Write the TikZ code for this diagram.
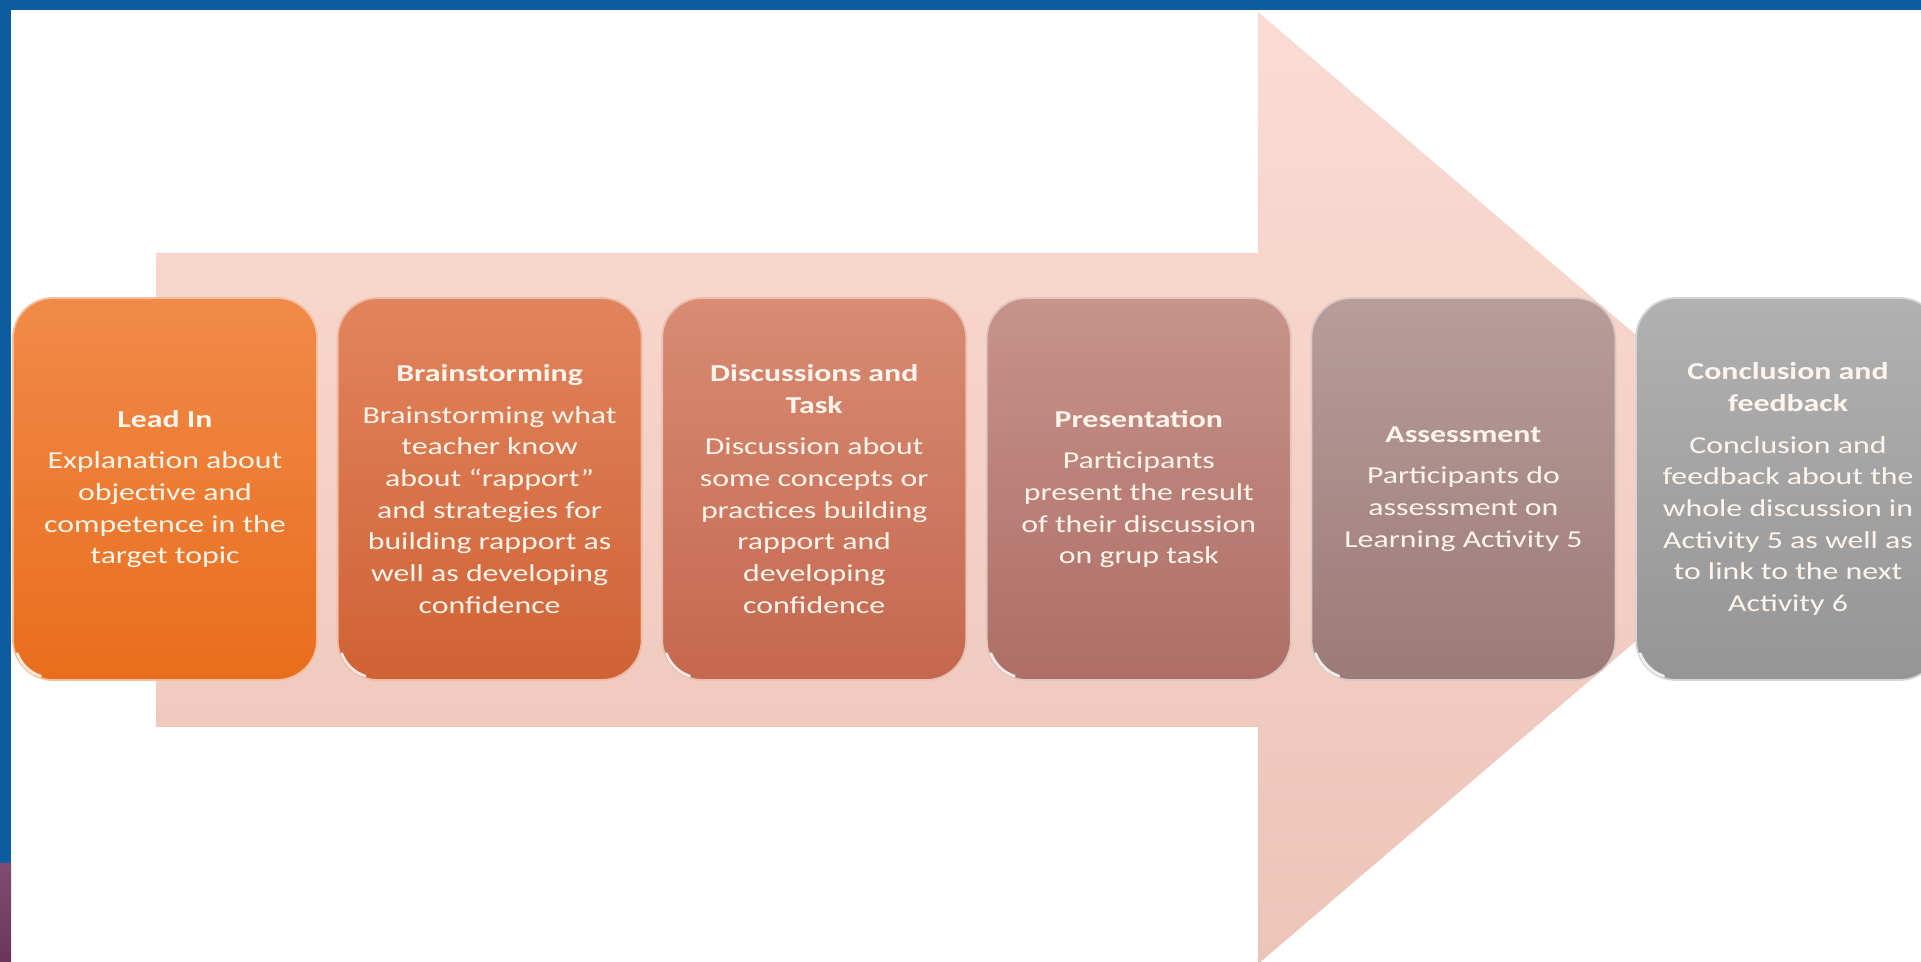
\documentclass[tikz,border=0pt]{standalone}
\usepackage{fontspec}
\setmainfont{Carlito}[FakeStretch=1.31]
\definecolor{frameblue}{HTML}{0D5CA0}
\definecolor{framepurpleA}{HTML}{7E4C74}
\definecolor{framepurpleB}{HTML}{6A3558}
\definecolor{arrowtop}{HTML}{FADCD3}
\definecolor{arrowbot}{HTML}{EDC4B8}
\definecolor{boxtext}{HTML}{FFF5EC}
\definecolor{cAt}{HTML}{F18A49}\definecolor{cAb}{HTML}{E86E1C}
\definecolor{cBt}{HTML}{E1845E}\definecolor{cBb}{HTML}{D06234}
\definecolor{cCt}{HTML}{D98B73}\definecolor{cCb}{HTML}{C4684F}
\definecolor{cDt}{HTML}{C7938A}\definecolor{cDb}{HTML}{AE6E66}
\definecolor{cEt}{HTML}{B89D9A}\definecolor{cEb}{HTML}{9C7A78}
\definecolor{cFt}{HTML}{B1B1B1}\definecolor{cFb}{HTML}{959595}
\begin{document}
\begin{tikzpicture}[x=0.5pt,y=0.5pt,
  stepbox/.style 2 args={rectangle, rounded corners=20pt,
    minimum width=152pt, minimum height=191pt, inner sep=0pt,
    align=center, text=boxtext,
    font=\fontsize{12.15}{15.85}\selectfont,
    top color=#1, bottom color=#2, draw=#1!55!white, line width=0.9pt},
  glint/.style={draw=white, line width=1.3pt, opacity=0.85, line cap=round},
  bigarrow/.style={top color=arrowtop, bottom color=arrowbot, draw=none}]
\useasboundingbox (0,0) rectangle (1921,962);
\clip (0,0) rectangle (1921,962);
\fill[white] (0,0) rectangle (1921,962);
% frame
\fill[frameblue] (0,952) rectangle (1921,962);
\fill[frameblue] (0,98) rectangle (11,962);
\shade[top color=framepurpleA, bottom color=framepurpleB] (0,0) rectangle (11,98);
% big arrow
\path[bigarrow] (156,709) -- (1258,709) -- (1258,950) -- (1815,474)
  -- (1258,-2) -- (1258,235) -- (156,235) -- cycle;
% steps
\node[stepbox={cAt}{cAb}] (b1) at (165,473)
  {\textbf{Lead In}\\[5pt]Explanation about\\objective and\\competence in the\\target topic};
\node[stepbox={cBt}{cBb}] (b2) at (489.6,473)
  {\textbf{Brainstorming}\\[5pt]Brainstorming what\\teacher know\\about “rapport”\\and strategies for\\building rapport as\\well as developing\\confidence};
\node[stepbox={cCt}{cCb}] (b3) at (814.2,473)
  {\textbf{Discussions and}\\\textbf{Task}\\[5pt]Discussion about\\some concepts or\\practices building\\rapport and\\developing\\confidence};
\node[stepbox={cDt}{cDb}] (b4) at (1138.8,473)
  {\textbf{Presentation}\\[5pt]Participants\\present the result\\of their discussion\\on grup task};
\node[stepbox={cEt}{cEb}] (b5) at (1463.4,473)
  {\textbf{Assessment}\\[5pt]Participants do\\assessment on\\Learning Activity 5};
\node[stepbox={cFt}{cFb}] (b6) at (1788,473)
  {\textbf{Conclusion and}\\\textbf{feedback}\\[5pt]Conclusion and\\feedback about the\\whole discussion in\\Activity 5 as well as\\to link to the next\\Activity 6};
% bottom-left highlights
\foreach \b in {b1,b2,b3,b4,b5,b6}{
  \draw[glint] (\b.south west) ++(2.6pt,13.7pt) arc[start angle=200, end angle=252, radius=18.5pt];
}
\end{tikzpicture}
\end{document}
